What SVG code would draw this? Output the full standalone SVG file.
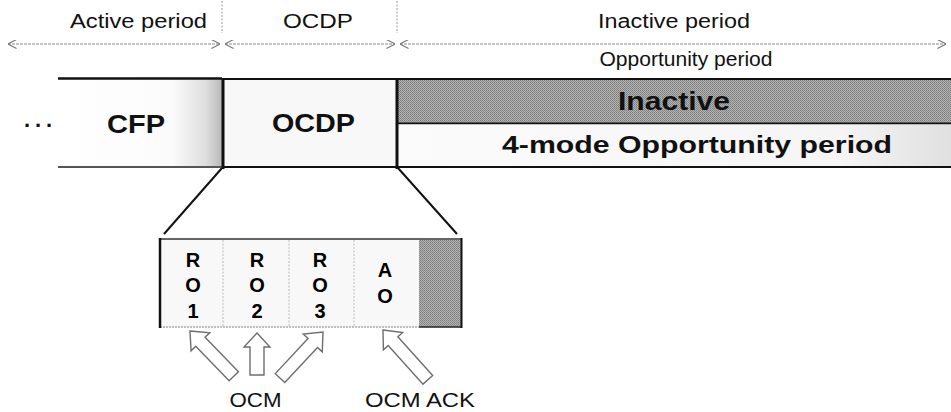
<svg xmlns="http://www.w3.org/2000/svg" width="951" height="412" viewBox="0 0 951 412">
<defs>
<style>
.lbl{font-family:"Liberation Sans",Arial,sans-serif;font-size:20px;fill:#111;text-anchor:middle}
.b{font-family:"Liberation Sans",Arial,sans-serif;font-weight:bold;fill:#111;text-anchor:middle}
.d{font-family:"Liberation Sans",Arial,sans-serif;font-weight:bold;font-size:20px;fill:#000;text-anchor:middle}
.dim{stroke:#8a8a8a;stroke-width:1.2;fill:none;stroke-dasharray:3 1}
.div{stroke:#9a9a9a;stroke-width:1;stroke-dasharray:2 1.5}
.edge{stroke:#111;fill:none}
.sep{stroke:#bbb;stroke-width:1;stroke-dasharray:2 1.5}
.barr{fill:#fff;stroke:#6e6e6e;stroke-width:1.4;stroke-linejoin:miter}
</style>
<pattern id="dither" width="2" height="2" patternUnits="userSpaceOnUse">
<rect width="2" height="2" fill="#b4b4b4"/>
<rect width="1" height="1" fill="#7c7c7c"/>
<rect x="1" y="1" width="1" height="1" fill="#888"/>
</pattern>
<linearGradient id="cfpg" x1="0" x2="1" y1="0" y2="0">
<stop offset="0" stop-color="#ffffff"/>
<stop offset="0.7" stop-color="#fbfbfb"/>
<stop offset="0.9" stop-color="#dedede"/>
<stop offset="1" stop-color="#b8b8b8"/>
</linearGradient>
<linearGradient id="oppg" x1="0" x2="1" y1="0" y2="0">
<stop offset="0" stop-color="#fbfbfb"/>
<stop offset="0.8" stop-color="#f5f5f5"/>
<stop offset="1" stop-color="#e0e0e0"/>
</linearGradient>
<marker id="ah" viewBox="0 0 10 10" refX="9.5" refY="5" markerWidth="9" markerHeight="9" markerUnits="userSpaceOnUse" orient="auto-start-reverse">
<path d="M0,0 L10,5 L0,10" fill="none" stroke="#777" stroke-width="1.2"/>
</marker>
</defs>

<g id="connectors">
<line class="div" x1="222" y1="1" x2="222" y2="33"/>
<line class="div" x1="397" y1="1" x2="397" y2="33"/>
<line class="dim" x1="8" y1="44" x2="220" y2="44" marker-start="url(#ah)" marker-end="url(#ah)"/>
<line class="dim" x1="225" y1="44" x2="395" y2="44" marker-start="url(#ah)" marker-end="url(#ah)"/>
<line class="dim" x1="400" y1="44" x2="946" y2="44" marker-start="url(#ah)" marker-end="url(#ah)"/>
<line class="edge" stroke-width="2" x1="222" y1="168" x2="164" y2="234"/>
<line class="edge" stroke-width="2" x1="398" y1="168" x2="457" y2="234"/>
</g>

<g id="labels-top">
<text class="lbl" x="138.5" y="28" textLength="137" lengthAdjust="spacingAndGlyphs">Active period</text>
<text class="lbl" x="318" y="28" textLength="70" lengthAdjust="spacingAndGlyphs">OCDP</text>
<text class="lbl" x="674" y="28" textLength="152" lengthAdjust="spacingAndGlyphs">Inactive period</text>
<text class="lbl" x="686" y="66" textLength="173" lengthAdjust="spacingAndGlyphs">Opportunity period</text>
</g>

<g id="dots">
<text class="b" x="38" y="127" font-size="22" textLength="28" lengthAdjust="spacing">...</text>
</g>

<g id="cfp">
<rect x="58" y="79" width="164" height="88" fill="url(#cfpg)"/>
<line class="edge" stroke-width="2.5" x1="58" y1="78.5" x2="222" y2="78.5"/>
<line stroke="#555" stroke-width="2" x1="58" y1="167" x2="222" y2="167"/>
<text class="b" x="136" y="133" font-size="25" textLength="58" lengthAdjust="spacingAndGlyphs">CFP</text>
</g>

<g id="ocdp">
<rect x="223" y="79" width="174" height="88" fill="#f8f8f8"/>
<line class="edge" stroke-width="2" x1="222" y1="79" x2="397" y2="79"/>
<line class="edge" stroke-width="2" x1="222" y1="167" x2="397" y2="167"/>
<line class="edge" stroke-width="3" x1="223" y1="78" x2="223" y2="169"/>
<text class="b" x="313.5" y="132" font-size="26" textLength="83" lengthAdjust="spacingAndGlyphs">OCDP</text>
</g>

<g id="inactive">
<rect x="397" y="80" width="554" height="43" fill="url(#dither)"/>
<line class="edge" stroke-width="2" x1="397" y1="79" x2="951" y2="79"/>
<line class="edge" stroke-width="2" x1="397" y1="123.5" x2="951" y2="123.5"/>
<text class="b" x="674" y="110" font-size="25" textLength="112" lengthAdjust="spacingAndGlyphs">Inactive</text>
</g>

<g id="opportunity">
<rect x="397" y="124.5" width="554" height="42" fill="url(#oppg)"/>
<line class="edge" stroke-width="2" x1="397" y1="167" x2="951" y2="167"/>
<text class="b" x="697" y="153" font-size="24" textLength="390" lengthAdjust="spacingAndGlyphs">4-mode Opportunity period</text>
</g>
<line class="edge" stroke-width="3" x1="397" y1="78" x2="397" y2="169"/>

<g id="detail">
<rect x="160" y="239" width="259" height="88" fill="#f8f8f8"/>
<rect x="419" y="240" width="42" height="87" fill="url(#dither)"/>
<line class="sep" x1="223" y1="240" x2="223" y2="327"/>
<line class="sep" x1="289" y1="240" x2="289" y2="327"/>
<line class="sep" x1="354" y1="240" x2="354" y2="327"/>
<line stroke="#333" stroke-width="1.5" x1="160" y1="239" x2="462" y2="239"/>
<line stroke="#aaa" stroke-width="1.5" stroke-dasharray="2 1" x1="160" y1="327" x2="419" y2="327"/>
<line stroke="#222" stroke-width="1.5" x1="419" y1="327" x2="462" y2="327"/>
<line stroke="#111" stroke-width="2.5" x1="160" y1="238" x2="160" y2="328"/>
<line stroke="#111" stroke-width="2" x1="461.5" y1="238" x2="461.5" y2="328"/>
<text class="d" x="193" y="267">R</text><text class="d" x="193" y="292">O</text><text class="d" x="193" y="318">1</text>
<text class="d" x="257" y="267">R</text><text class="d" x="257" y="292">O</text><text class="d" x="257" y="318">2</text>
<text class="d" x="320" y="267">R</text><text class="d" x="320" y="292">O</text><text class="d" x="320" y="318">3</text>
<text class="d" x="385" y="277">A</text><text class="d" x="385" y="303">O</text>
</g>

<g id="arrows">
<path class="barr" transform="translate(190,331) rotate(-44)" d="M0,0 L13,15 L6.5,15 L6.5,63 L-6.5,63 L-6.5,15 L-13,15 Z"/>
<path class="barr" transform="translate(257,333)" d="M0,0 L13,14 L7,14 L7,42 L-7,42 L-7,14 L-13,14 Z"/>
<path class="barr" transform="translate(323,332) rotate(43)" d="M0,0 L13,15 L6.5,15 L6.5,63 L-6.5,63 L-6.5,15 L-13,15 Z"/>
<path class="barr" transform="translate(383,330) rotate(-42)" d="M0,0 L13,15 L6.5,15 L6.5,67 L-6.5,67 L-6.5,15 L-13,15 Z"/>
</g>

<g id="bottom-labels">
<text class="lbl" x="255.5" y="407" font-size="21" textLength="52" lengthAdjust="spacingAndGlyphs">OCM</text>
<text class="lbl" x="420" y="407" font-size="21" textLength="110" lengthAdjust="spacingAndGlyphs">OCM ACK</text>
</g>
</svg>
